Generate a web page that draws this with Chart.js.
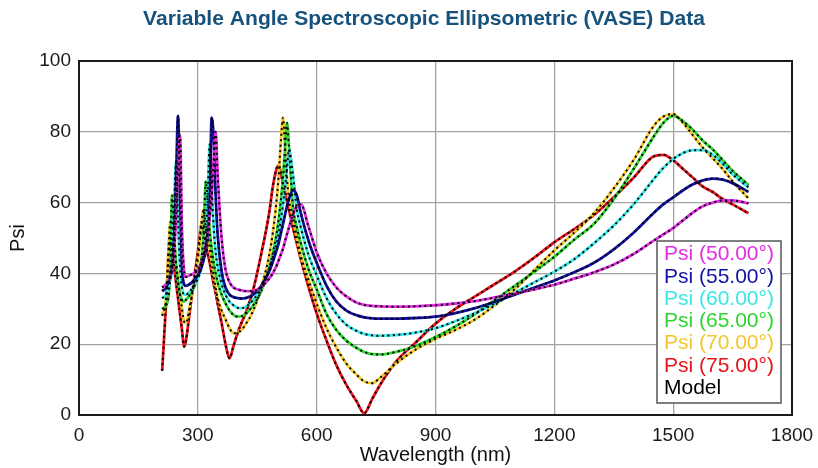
<!DOCTYPE html>
<html><head><meta charset="utf-8">
<script src="https://cdn.jsdelivr.net/npm/chart.js@4.4.1/dist/chart.umd.min.js"></script>
<style>html,body{margin:0;padding:0;background:#fff;overflow:hidden}#wrap{width:818px;height:468px}</style>
</head><body><div id="wrap"><canvas id="c" width="818" height="468"></canvas></div>
<script>
const chartTitle = 'Variable Angle Spectroscopic Ellipsometric (VASE) Data';
const xTitle = 'Wavelength (nm)';
const yTitle = 'Psi';
const xTicks = [0, 300, 600, 900, 1200, 1500, 1800];
const yTicks = [0, 20, 40, 60, 80, 100];
const wavelengths = [210,220,230,235,240,245,250,255,260,265,270,280,290,300,305,310,315,320,325,330,335,340,345,350,360,370,380,390,400,410,420,440,460,480,490,500,505,510,515,520,525,530,540,550,560,580,600,625,650,675,700,720,740,760,800,850,900,950,1000,1050,1100,1150,1200,1250,1300,1350,1400,1450,1475,1500,1525,1550,1575,1600,1625,1650,1690];
const psi50 = [36,37,39,41,46,56,70,79,52,41,39,39.5,40,41,42,43.5,45.5,48,52,56,62,72,80,68,50,41,37.5,36,35.5,35.2,35,35,36.2,38.5,40.2,42.5,44,45.5,47,49,51,53,56.5,59,59.5,53,46,40,36,33.5,31.8,31.1,30.8,30.7,30.6,30.7,31,31.5,32.2,33.2,34.3,35.5,36.8,38.5,40.3,42.5,45.5,49.2,51,52.8,55,57.2,59,60,60.6,60.6,59.8];
const psi55 = [35,36,39,42,50,66,84.5,62,42,37,36.5,37,38,39.5,40.5,42,44,46.5,51,60,84,78,62,51,40.5,36,34,33.3,33,32.9,33,34,36.5,40.5,43.5,47,49,51.5,54,56.5,59,61,63.5,62,57,49,43,36.5,32,29.5,28.2,27.6,27.3,27.2,27.2,27.4,27.8,28.8,30.2,32,34,36,38,40.3,43,46.8,51.5,57,59.5,61.5,63.5,65.2,66.3,66.8,66.5,65.5,63];
const psi60 = [33,34,38,42,58,71.5,55,42,36,34,34,35,36.5,38.5,40,42,45,50,62,76.5,64,53,46,42,37,34,32,31,30.3,30.2,30.5,32.5,36,41.5,45,49,52,55.5,59.5,64,69.5,75,68,58,53,45,39.5,33,28.5,25.5,23.8,22.9,22.5,22.4,22.6,23.3,24.5,26.5,28.8,31.5,34.5,37.5,40.5,44,48.5,53.5,59.5,66.5,69.8,72.3,74,74.8,74.8,73.5,71,68,64.3];
const psi65 = [30,31,40,62,52,42,37,34,32.5,32,32.5,34,36,39,41.5,45,52,66,60,52,47,43,40,37.5,34,31.5,29.5,28.3,27.8,27.9,28.5,31,35,41.5,46,52,56,61,67,75,82.5,76,59,53,48.5,41,35.5,28.5,24,21,19,17.8,17.2,17.1,17.8,19.5,22,25,28.5,32.5,36.5,40.5,44.7,49.5,54,61,69.5,78.5,82.5,84.5,83,80.5,77.5,75,72,69,65];
const psi70 = [28,33,54,55,48,43,38.5,34,30,26.5,26,31,37,44,49,55,58,53,50,47,43,39,36,33,29.5,27,24.5,23.1,23.3,24,25.5,29.5,36,45,52,62,69,78,84,76,67,61,56,50,45,38,31.5,24.5,19,14.5,11.5,9.5,9,10.5,14.5,18.5,21.5,24,27,31,35.5,41,46.5,51.5,57,64,72,81.5,84.3,85,82.5,79,75.5,72.5,69.5,66,61.2];
const psi75 = [12.5,32,50,46.5,42,37.5,33,28.5,24,19.3,21,29.5,38,46,50.5,54.5,51.5,48.5,45.5,43,40,37,34.5,31.5,26,20,16,19.5,23,26,28.5,35.5,45.5,57,65,70,70.5,68,65.5,63,60.5,58,53,48.5,44,36,28.7,21,14,8.5,4,0.5,4.5,8.5,15,20.5,25.8,30,33.5,37,40.5,44.5,48.8,52.5,56.5,61.5,67,73,73.5,72,69.5,67,64.5,63,61,59.5,57];
const seriesLabels = ['Psi (50.00°)','Psi (55.00°)','Psi (60.00°)','Psi (65.00°)','Psi (70.00°)','Psi (75.00°)'];
const modelLabel = 'Model';
const seriesColors = ['#e22ee2','#1212a6','#3ae6e6','#2fd42f','#f2c62c','#e6141c'];
const seriesValues = [psi50, psi55, psi60, psi65, psi70, psi75];

const toPoints = arr => arr.map((v, i) => ({x: wavelengths[i], y: v}));
const datasets = [];
seriesValues.forEach((arr, k) => {
  datasets.push({label: seriesLabels[k], data: toPoints(arr), borderColor: seriesColors[k], borderWidth: 2.8,
    pointRadius: 0, fill: false, cubicInterpolationMode: 'monotone', order: 2});
});
seriesValues.forEach((arr, k) => {
  datasets.push({label: modelLabel, data: toPoints(arr), borderColor: '#000', borderWidth: 2, borderDash: [2, 3.5],
    pointRadius: 0, fill: false, cubicInterpolationMode: 'monotone', order: 1});
});

const FONT = "'Liberation Sans', Arial, sans-serif";
const decor = {
  id: 'decor',
  afterDatasetsDraw(chart) {
    const {ctx, chartArea: a} = chart;
    ctx.save();
    ctx.strokeStyle = '#1a1a1a'; ctx.lineWidth = 2;
    ctx.strokeRect(a.left, a.top, a.right - a.left, a.bottom - a.top);
    const bw = 124, bh = 162;
    const bx = a.right - 11 - bw, by = a.bottom - 12 - bh;
    ctx.fillStyle = '#fff'; ctx.fillRect(bx, by, bw, bh);
    ctx.strokeStyle = '#555'; ctx.lineWidth = 1.5; ctx.strokeRect(bx, by, bw, bh);
    ctx.font = '21px ' + FONT; ctx.textBaseline = 'middle'; ctx.textAlign = 'left';
    const items = seriesLabels.map((t, i) => [t, seriesColors[i]]).concat([[modelLabel, '#000']]);
    items.forEach((it, i) => { ctx.fillStyle = it[1]; ctx.fillText(it[0], bx + 7, by + 13.5 + i * 22.3); });
    ctx.font = 'bold 16px ' + FONT;
    const w = ctx.measureText(chartTitle).width;
    const fs = 16 * 562 / w;
    ctx.font = 'bold ' + fs.toFixed(2) + 'px ' + FONT;
    ctx.fillStyle = '#17527d'; ctx.textAlign = 'center';
    ctx.fillText(chartTitle, 424, 19);
    ctx.restore();
  }
};

new Chart(document.getElementById('c'), {
  type: 'line',
  data: {datasets},
  plugins: [decor],
  options: {
    responsive: false, animation: false, devicePixelRatio: 1,
    layout: {padding: {top: 61, right: 26, bottom: 0, left: 0}},
    plugins: {legend: {display: false}, title: {display: false}, tooltip: {enabled: false}},
    scales: {
      x: {type: 'linear', min: 0, max: 1800,
        afterBuildTicks: s => { s.ticks = xTicks.map(v => ({value: v})); },
        afterFit: s => { s.height = 53; s.paddingLeft = 0; s.paddingRight = 0; },
        ticks: {font: {size: 19, family: FONT}, color: '#1a1a1a', padding: 9, maxRotation: 0, callback: v => String(v)},
        grid: {color: '#a3a3a3', lineWidth: 1.3, drawTicks: false},
        border: {display: false},
        title: {display: true, text: xTitle, font: {size: 20, family: FONT}, color: '#111', padding: {top: 0, bottom: 1}}
      },
      y: {min: 0, max: 100,
        afterBuildTicks: s => { s.ticks = yTicks.map(v => ({value: v})); },
        afterFit: s => { s.width = 79; s.paddingTop = 0; s.paddingBottom = 0; },
        ticks: {font: {size: 19, family: FONT}, color: '#1a1a1a', padding: 8, callback: v => String(v)},
        grid: {color: '#a3a3a3', lineWidth: 1.3, drawTicks: false},
        border: {display: false},
        title: {display: true, text: yTitle, font: {size: 20, family: FONT}, color: '#111', padding: {top: 6, bottom: 0}}
      }
    }
  }
});
</script></body></html>
